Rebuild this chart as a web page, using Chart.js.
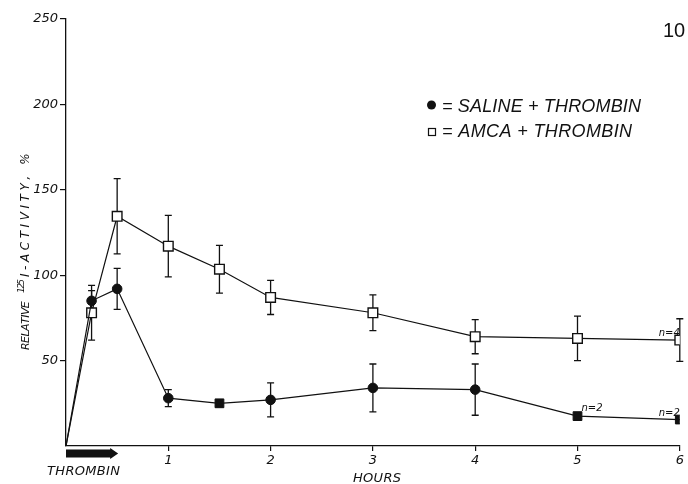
<!DOCTYPE html>
<html>
<head>
<meta charset="utf-8">
<script src="https://cdn.jsdelivr.net/npm/chart.js@4"></script>
<style>
  html, body { margin: 0; padding: 0; background: #fff; }
  #wrap { width: 688px; height: 484px; }
</style>
</head>
<body>
<div id="wrap"><canvas id="c" width="688" height="484"></canvas></div>
<script>
// Relative 125I-activity (%) after thrombin infusion, mean ± SEM
const hours = [0, 0.25, 0.5, 1, 1.5, 2, 3, 4, 5, 6];
const salineMean = [0, 85, 92, 28, 25, 27, 34, 33, 17.5, 15.5];
const salineSem = [0, 6, 12, 5, 2, 10, 14, 15, 0, 0];
const amcaMean = [0, 78, 134.5, 117, 103.5, 87, 78, 64, 63, 62];
const amcaSem = [0, 16, 22, 18, 14, 10, 10.5, 10, 13, 12.5];
const hourTicks = [0, 1, 2, 3, 4, 5, 6];
const activityTicks = [0, 50, 100, 150, 200, 250];
const infusionEnd = 0.5; // thrombin given from 0 to 0.5 h
const groupLabels = ['= SALINE + THROMBIN', '= AMCA + THROMBIN'];
const nNotes = [
  { series: 'amca', index: 9, text: 'n=4' },
  { series: 'saline', index: 8, text: 'n=2' },
  { series: 'saline', index: 9, text: 'n=2' }
];

const FONT = "'DejaVu Sans', Verdana, sans-serif";
const LEGEND_FONT = "'Liberation Sans', Arial, sans-serif";
const INK = '#111';

// draw text with even letter spacing so it spans a given width
function spaced(ctx, text, x, y, width) {
  const chars = [...text];
  const natural = ctx.measureText(text).width;
  const gap = chars.length > 1 ? (width - natural) / (chars.length - 1) : 0;
  let cx = x;
  for (const ch of chars) {
    ctx.fillText(ch, cx, y);
    cx += ctx.measureText(ch).width + gap;
  }
}

const errorBars = {
  id: 'errorBars',
  beforeDatasetsDraw(chart) {
    const { ctx, scales: { x, y } } = chart;
    ctx.save();
    ctx.strokeStyle = INK;
    ctx.lineWidth = 1.3;
    [[salineMean, salineSem], [amcaMean, amcaSem]].forEach(([m, s]) => {
      hours.forEach((h, i) => {
        if (!s[i]) return;
        const px = x.getPixelForValue(h);
        const top = y.getPixelForValue(m[i] + s[i]);
        const bot = y.getPixelForValue(m[i] - s[i]);
        ctx.beginPath();
        ctx.moveTo(px, top); ctx.lineTo(px, bot);
        ctx.moveTo(px - 3.5, top); ctx.lineTo(px + 3.5, top);
        ctx.moveTo(px - 3.5, bot); ctx.lineTo(px + 3.5, bot);
        ctx.stroke();
      });
    });
    ctx.restore();
  }
};

const decorations = {
  id: 'decorations',
  afterDraw(chart) {
    const { ctx, chartArea, scales: { x, y } } = chart;
    ctx.save();
    ctx.fillStyle = INK;

    // thrombin infusion arrow
    const x0 = x.getPixelForValue(0);
    const x1 = x.getPixelForValue(infusionEnd);
    const b = chartArea.bottom;
    ctx.beginPath();
    ctx.moveTo(x0, b + 3.5);
    ctx.lineTo(x1 - 7, b + 3.5);
    ctx.lineTo(x1 - 7, b + 2);
    ctx.lineTo(x1 + 1, b + 7.5);
    ctx.lineTo(x1 - 7, b + 13);
    ctx.lineTo(x1 - 7, b + 11.5);
    ctx.lineTo(x0, b + 11.5);
    ctx.closePath();
    ctx.fill();

    ctx.font = 'italic 13px ' + FONT;
    ctx.textBaseline = 'alphabetic';
    ctx.textAlign = 'left';
    spaced(ctx, 'THROMBIN', 47, 475, 73);

    // x-axis title
    spaced(ctx, 'HOURS', 353, 482, 48);

    // y-axis title, rotated, with superscript isotope number
    ctx.save();
    ctx.translate(29, 350);
    ctx.rotate(-Math.PI / 2);
    ctx.font = 'italic 11px ' + FONT;
    spaced(ctx, 'RELATIVE', 0, 0, 48);
    ctx.font = 'italic 9px ' + FONT;
    spaced(ctx, '125', 57, -5, 14);
    ctx.font = 'italic 12px ' + FONT;
    spaced(ctx, 'I-ACTIVITY, %', 73, 0, 122);
    ctx.restore();

    // legend
    ctx.beginPath();
    ctx.arc(431.5, 105, 4.5, 0, Math.PI * 2);
    ctx.fill();
    ctx.lineWidth = 1.2;
    ctx.strokeStyle = INK;
    ctx.strokeRect(428.5, 128.5, 7, 7);
    ctx.font = 'italic 18px ' + LEGEND_FONT;
    spaced(ctx, groupLabels[0], 442, 112, 199);
    spaced(ctx, groupLabels[1], 442, 137, 190);

    // figure number
    ctx.font = "20px 'Liberation Sans', Arial, sans-serif";
    ctx.fillText('10', 663, 37);

    // group sizes
    ctx.font = 'italic 10px ' + FONT;
    nNotes.forEach(n => {
      const means = n.series === 'amca' ? amcaMean : salineMean;
      const px = x.getPixelForValue(hours[n.index]);
      const py = y.getPixelForValue(means[n.index]);
      if (n.index === hours.length - 1) {
        ctx.textAlign = 'right';
        ctx.fillText(n.text, px, py - 4);
      } else {
        ctx.textAlign = 'left';
        ctx.fillText(n.text, px + 4, py - 5);
      }
    });
    ctx.restore();
  }
};

const salinePoints = hours.map((h, i) => ({ x: h, y: salineMean[i] }));
const amcaPoints = hours.map((h, i) => ({ x: h, y: amcaMean[i] }));
const salineRect = new Set([4, 8, 9]);

const tickFont = { family: FONT, size: 13, style: 'italic' };
const hideZero = c => (c.tick && c.tick.value === 0) ? 'rgba(0,0,0,0)' : INK;

new Chart(document.getElementById('c'), {
  type: 'line',
  data: {
    datasets: [
      {
        label: 'SALINE + THROMBIN',
        data: salinePoints,
        borderColor: INK,
        borderWidth: 1.2,
        pointBackgroundColor: INK,
        pointBorderColor: INK,
        pointBorderWidth: 1,
        pointStyle: c => salineRect.has(c.dataIndex) ? 'rect' : 'circle',
        pointRadius: c => c.dataIndex === 0 ? 0 : (salineRect.has(c.dataIndex) ? 6.2 : 4.8),
        tension: 0
      },
      {
        label: 'AMCA + THROMBIN',
        data: amcaPoints,
        borderColor: INK,
        borderWidth: 1.2,
        pointBackgroundColor: '#fff',
        pointBorderColor: INK,
        pointBorderWidth: 1.4,
        pointStyle: 'rect',
        pointRadius: c => c.dataIndex === 0 ? 0 : 6.8,
        tension: 0
      }
    ]
  },
  options: {
    responsive: false,
    animation: false,
    layout: { padding: { top: 19, right: 8, left: 0, bottom: 0 } },
    plugins: { legend: { display: false }, tooltip: { enabled: false } },
    scales: {
      x: {
        type: 'linear',
        min: 0,
        max: 6,
        afterFit(s) { s.height = 38; },
        afterBuildTicks(s) { s.ticks = hourTicks.map(v => ({ value: v })); },
        ticks: {
          callback: v => v === 0 ? '' : String(v),
          font: tickFont, color: INK, padding: 2, maxRotation: 0, autoSkip: false
        },
        grid: { drawOnChartArea: false, tickLength: 5, color: hideZero, lineWidth: 1.2 },
        border: { color: INK, width: 1.3 }
      },
      y: {
        min: 0,
        max: 250,
        afterFit(s) { s.width = 66; },
        afterBuildTicks(s) { s.ticks = activityTicks.map(v => ({ value: v })); },
        ticks: {
          callback: v => v === 0 ? '' : String(v),
          font: tickFont, color: INK, padding: 2
        },
        grid: { drawOnChartArea: false, tickLength: 6, color: hideZero, lineWidth: 1.2 },
        border: { color: INK, width: 1.3 }
      }
    }
  },
  plugins: [errorBars, decorations]
});
</script>
</body>
</html>
